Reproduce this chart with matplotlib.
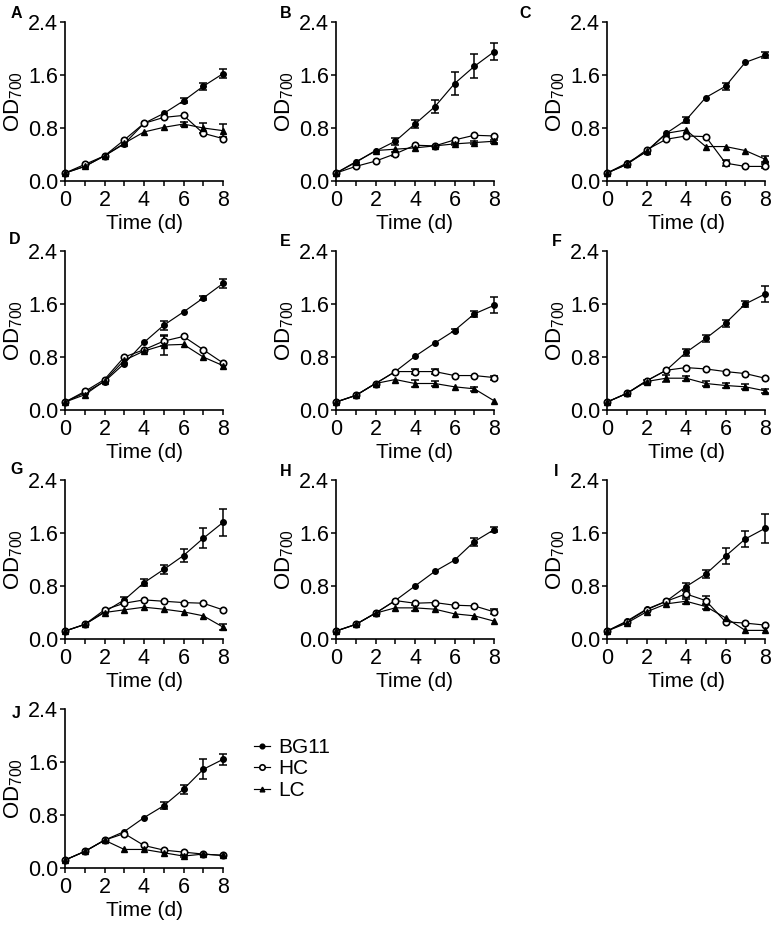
import matplotlib
matplotlib.use("Agg")
import matplotlib.pyplot as plt
import numpy as np

plt.rcParams['font.family'] = ['Liberation Sans', 'DejaVu Sans']
plt.rcParams['mathtext.fontset'] = 'custom'
plt.rcParams['mathtext.rm'] = 'Liberation Sans'

PANELS = ["A", "B", "C", "D", "E", "F", "G", "H", "I", "J"]
DAYS = [0, 1, 2, 3, 4, 5, 6, 7, 8]
YTICKS = [0.0, 0.8, 1.6, 2.4]
YTICKLABELS = ["0.0", "0.8", "1.6", "2.4"]
XTICKS = [0, 2, 4, 6, 8]
SERIES = ["BG11", "HC", "LC"]

BG11 = [
    [0.12, 0.22, 0.38, 0.56, 0.87, 1.02, 1.21, 1.43, 1.62],
    [0.12, 0.29, 0.45, 0.60, 0.86, 1.12, 1.47, 1.73, 1.95],
    [0.12, 0.27, 0.44, 0.72, 0.92, 1.26, 1.43, 1.79, 1.90],
    [0.12, 0.26, 0.43, 0.70, 1.02, 1.28, 1.48, 1.69, 1.91],
    [0.12, 0.22, 0.40, 0.58, 0.81, 1.01, 1.20, 1.45, 1.58],
    [0.12, 0.25, 0.44, 0.60, 0.87, 1.08, 1.31, 1.60, 1.75],
    [0.12, 0.22, 0.41, 0.59, 0.85, 1.05, 1.26, 1.52, 1.76],
    [0.12, 0.22, 0.39, 0.58, 0.80, 1.02, 1.19, 1.47, 1.65],
    [0.12, 0.27, 0.45, 0.57, 0.79, 0.98, 1.25, 1.51, 1.67],
    [0.12, 0.25, 0.42, 0.55, 0.76, 0.94, 1.19, 1.49, 1.64],
]
BG11_ERR = [
    [0, 0, 0, 0, 0, 0, 0.04, 0.05, 0.07],
    [0, 0, 0, 0.05, 0.06, 0.10, 0.17, 0.18, 0.13],
    [0, 0, 0, 0, 0.05, 0, 0.05, 0, 0.05],
    [0, 0, 0, 0, 0, 0.07, 0, 0.03, 0.07],
    [0, 0, 0, 0, 0, 0, 0.03, 0.04, 0.12],
    [0, 0, 0, 0, 0.05, 0.05, 0.05, 0.05, 0.12],
    [0, 0, 0, 0.05, 0.05, 0.07, 0.10, 0.15, 0.20],
    [0, 0, 0, 0, 0, 0, 0, 0.06, 0.04],
    [0, 0, 0, 0, 0.05, 0.06, 0.12, 0.12, 0.22],
    [0, 0, 0, 0, 0, 0.05, 0.07, 0.15, 0.08],
]
HC = [
    [0.12, 0.25, 0.38, 0.62, 0.87, 0.96, 0.99, 0.72, 0.64],
    [0.12, 0.22, 0.30, 0.41, 0.54, 0.53, 0.62, 0.69, 0.68],
    [0.12, 0.25, 0.47, 0.63, 0.68, 0.67, 0.27, 0.22, 0.22],
    [0.12, 0.28, 0.46, 0.80, 0.91, 1.04, 1.11, 0.91, 0.71],
    [0.12, 0.22, 0.40, 0.58, 0.58, 0.58, 0.52, 0.52, 0.49],
    [0.12, 0.25, 0.44, 0.60, 0.64, 0.62, 0.58, 0.55, 0.48],
    [0.12, 0.22, 0.44, 0.54, 0.59, 0.57, 0.55, 0.54, 0.44],
    [0.12, 0.22, 0.39, 0.58, 0.54, 0.55, 0.51, 0.50, 0.41],
    [0.12, 0.26, 0.44, 0.57, 0.68, 0.58, 0.26, 0.24, 0.21],
    [0.12, 0.25, 0.42, 0.52, 0.34, 0.27, 0.24, 0.21, 0.19],
]
HC_ERR = [
    [0, 0, 0, 0, 0, 0, 0, 0, 0],
    [0, 0, 0, 0.03, 0, 0, 0, 0, 0],
    [0, 0, 0, 0, 0, 0, 0.05, 0, 0.03],
    [0, 0, 0, 0, 0, 0.08, 0, 0, 0],
    [0, 0, 0, 0, 0.04, 0.04, 0, 0, 0.03],
    [0, 0, 0, 0, 0, 0, 0, 0, 0],
    [0, 0, 0, 0, 0, 0, 0, 0, 0],
    [0, 0, 0, 0, 0, 0, 0, 0, 0.04],
    [0, 0, 0, 0, 0.05, 0.07, 0, 0, 0],
    [0, 0, 0, 0, 0, 0, 0, 0, 0],
]
LC = [
    [0.12, 0.22, 0.38, 0.57, 0.74, 0.81, 0.86, 0.80, 0.76],
    [0.12, 0.28, 0.46, 0.48, 0.50, 0.53, 0.56, 0.58, 0.60],
    [0.12, 0.25, 0.45, 0.72, 0.77, 0.52, 0.52, 0.46, 0.33],
    [0.12, 0.23, 0.44, 0.75, 0.89, 0.98, 0.99, 0.80, 0.67],
    [0.12, 0.22, 0.40, 0.46, 0.40, 0.40, 0.35, 0.32, 0.14],
    [0.12, 0.25, 0.43, 0.48, 0.48, 0.40, 0.37, 0.35, 0.29],
    [0.12, 0.22, 0.40, 0.44, 0.48, 0.45, 0.41, 0.35, 0.18],
    [0.12, 0.22, 0.39, 0.47, 0.47, 0.45, 0.38, 0.35, 0.27],
    [0.12, 0.24, 0.41, 0.53, 0.57, 0.49, 0.32, 0.13, 0.13],
    [0.12, 0.25, 0.42, 0.28, 0.28, 0.23, 0.18, 0.21, 0.19],
]
LC_ERR = [
    [0, 0, 0, 0, 0, 0, 0.03, 0.07, 0.10],
    [0, 0, 0, 0, 0, 0, 0.02, 0.02, 0.02],
    [0, 0, 0, 0, 0, 0, 0, 0, 0.04],
    [0, 0, 0, 0, 0, 0.15, 0, 0, 0],
    [0, 0, 0, 0, 0.05, 0.04, 0, 0.03, 0],
    [0, 0, 0.03, 0.05, 0.04, 0.04, 0.04, 0.04, 0.03],
    [0, 0, 0, 0, 0, 0, 0, 0, 0.04],
    [0, 0, 0, 0, 0.04, 0, 0, 0, 0],
    [0, 0, 0, 0, 0.04, 0.04, 0, 0, 0],
    [0, 0, 0, 0, 0, 0, 0.02, 0, 0],
]

W, H = 773, 925
fig = plt.figure(figsize=(W / 100, H / 100), dpi=100)

col_left = [65, 336, 607]
row_bottom = [181, 410, 639, 868]
AX_W, AX_H = 158, 159
letter_pos = {
    "A": (16, 13), "B": (286, 14), "C": (525, 14),
    "D": (15, 240), "E": (285, 241), "F": (557, 241),
    "G": (17, 470), "H": (286, 471), "I": (556, 471),
    "J": (16, 714),
}

styles = {
    "BG11": dict(marker="o", ms=4.0, mfc="black", mec="black", mew=1.0),
    "HC": dict(marker="o", ms=4.6, mfc="white", mec="black", mew=1.2),
    "LC": dict(marker="^", ms=4.0, mfc="black", mec="black", mew=1.0),
}

x = np.array(DAYS)
axes = []
for i, p in enumerate(PANELS):
    r, c = divmod(i, 3)
    left = col_left[c] / W
    bottom = 1 - row_bottom[r] / H
    ax = fig.add_axes([left, bottom, AX_W / W, AX_H / H])
    axes.append(ax)
    data = [(BG11[i], BG11_ERR[i]), (HC[i], HC_ERR[i]), (LC[i], LC_ERR[i])]
    for name, (y, e) in zip(SERIES, data):
        y = np.array(y)
        e = np.array(e)
        m = e > 0
        if m.any():
            ax.errorbar(x[m], y[m], yerr=e[m], fmt="none", ecolor="black",
                        elinewidth=1.1, capsize=2.6, capthick=1.1,
                        clip_on=False, zorder=2)
        ax.plot(x, y, color="black", lw=0.85, clip_on=False, zorder=3,
                label=name, **styles[name])
    ax.set_xlim(0, 8)
    ax.set_ylim(0, 2.4)
    ax.set_xticks(XTICKS)
    ax.set_xticks([1, 3, 5, 7], minor=True)
    ax.set_yticks(YTICKS)
    ax.set_yticklabels(YTICKLABELS)
    for s in ["top", "right"]:
        ax.spines[s].set_visible(False)
    for s in ["left", "bottom"]:
        ax.spines[s].set_linewidth(1.2)
    ax.tick_params(axis="both", which="both", direction="out", length=3.8,
                   width=1.1, labelsize=15.5, color="black")
    ax.tick_params(axis="y", pad=1)
    ax.tick_params(axis="x", pad=2.5)
    ax.set_xlabel("Time (d)", fontsize=15, labelpad=2)
    ax.set_ylabel(r"OD$_{\mathregular{700}}$", fontsize=16, labelpad=2)
    lx, ly = letter_pos[p]
    fig.text(lx / W, 1 - ly / H, p, fontsize=11.5, fontweight="bold",
             ha="center", va="center")

handles, labels = axes[-1].get_legend_handles_labels()
fig.legend(handles, labels, loc="upper left",
           bbox_to_anchor=(254 / W, 1 - 738 / H), frameon=False,
           fontsize=15, handlelength=0.75, handletextpad=0.4,
           labelspacing=0.12, borderpad=0, borderaxespad=0, markerscale=0.85)

fig.savefig("out.png", dpi=100)
